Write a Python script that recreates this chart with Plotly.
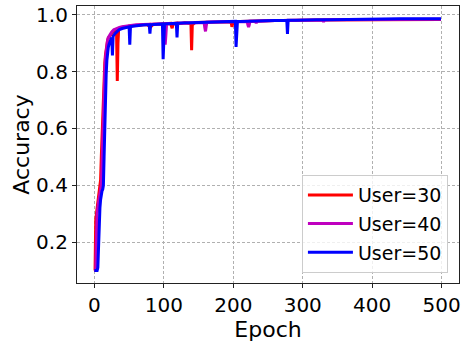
import plotly.graph_objects as go

# ---------------- data ----------------
series_names = ["User=30", "User=40", "User=50"]

epochs_u30 = [0, 1, 2, 3, 5, 7, 8, 9, 10, 11, 12, 13, 14, 15, 16, 17, 18, 19, 20, 22, 24, 26, 28, 30, 31, 32, 33, 34, 35,
              37, 40, 43, 46, 50, 55, 60, 65, 70, 75, 78, 80, 82, 85, 90, 95, 100, 105, 110, 111, 112, 113, 115, 120,
              125, 130, 135, 139, 140, 141, 145, 150, 155, 160, 170, 180, 190, 197, 198, 199, 200, 210, 220, 230, 240,
              250, 260, 270, 280, 290, 300, 320, 340, 360, 380, 400, 420, 440, 460, 480, 499]
acc_u30 = [0.10, 0.10, 0.28, 0.30, 0.33, 0.37, 0.39, 0.42, 0.50, 0.58, 0.65, 0.72, 0.78, 0.83, 0.86, 0.885, 0.90, 0.91,
           0.918, 0.925, 0.935, 0.94, 0.945, 0.948, 0.95, 0.93, 0.767, 0.90, 0.952, 0.954, 0.956, 0.958, 0.957, 0.961,
           0.962, 0.963, 0.964, 0.963, 0.966, 0.962, 0.966, 0.960, 0.967, 0.967, 0.968, 0.968, 0.969, 0.970, 0.960,
           0.953, 0.965, 0.970, 0.971, 0.970, 0.972, 0.972, 0.970, 0.876, 0.965, 0.973, 0.973, 0.974, 0.974, 0.975,
           0.975, 0.976, 0.974, 0.958, 0.965, 0.977, 0.977, 0.978, 0.978, 0.979, 0.979, 0.980, 0.980, 0.981, 0.981,
           0.981, 0.982, 0.982, 0.983, 0.983, 0.983, 0.983, 0.984, 0.984, 0.984, 0.984]

epochs_u40 = [0, 2, 3, 4, 6, 8, 10, 11, 12, 13, 14, 15, 16, 17, 18, 19, 20, 22, 25, 28, 32, 36, 40, 45, 50, 55, 60, 70,
              80, 90, 100, 101, 102, 103, 104, 110, 120, 130, 140, 150, 158, 159, 160, 161, 162, 170, 180, 190, 200,
              210, 220, 221, 222, 223, 224, 232, 233, 234, 240, 250, 260, 270, 280, 290, 300, 320, 329, 330, 331, 340,
              360, 380, 400, 420, 440, 460, 480, 499]
acc_u40 = [0.10, 0.10, 0.22, 0.30, 0.34, 0.37, 0.40, 0.47, 0.57, 0.66, 0.74, 0.80, 0.85, 0.88, 0.90, 0.91, 0.92, 0.93,
           0.94, 0.948, 0.953, 0.956, 0.958, 0.960, 0.962, 0.963, 0.965, 0.966, 0.967, 0.968, 0.969, 0.930, 0.895,
           0.930, 0.969, 0.970, 0.971, 0.972, 0.972, 0.973, 0.973, 0.955, 0.942, 0.960, 0.974, 0.975, 0.975, 0.976,
           0.977, 0.977, 0.977, 0.965, 0.957, 0.965, 0.978, 0.978, 0.970, 0.978, 0.979, 0.979, 0.980, 0.980, 0.980,
           0.981, 0.981, 0.982, 0.982, 0.975, 0.982, 0.983, 0.983, 0.984, 0.984, 0.984, 0.985, 0.985, 0.985, 0.985]

epochs_u50 = [0, 4, 5, 6, 7, 8, 9, 10, 11, 12, 13, 14, 15, 16, 17, 18, 19, 20, 21, 22, 24, 25, 26, 27, 28, 30, 33, 36,
              40, 45, 50, 51, 52, 55, 60, 65, 70, 75, 79, 80, 81, 85, 90, 95, 98, 99, 100, 101, 105, 110, 115, 118,
              119, 120, 125, 130, 140, 150, 160, 170, 180, 190, 200, 203, 204, 205, 206, 210, 220, 230, 240, 250, 260,
              270, 277, 278, 279, 290, 300, 320, 340, 360, 380, 400, 420, 440, 460, 480, 499]
acc_u50 = [0.10, 0.10, 0.11, 0.20, 0.28, 0.32, 0.35, 0.37, 0.38, 0.385, 0.40, 0.50, 0.62, 0.72, 0.79, 0.84, 0.87, 0.885,
           0.895, 0.905, 0.915, 0.92, 0.857, 0.925, 0.93, 0.935, 0.942, 0.948, 0.952, 0.956, 0.958, 0.895, 0.958,
           0.960, 0.962, 0.963, 0.964, 0.965, 0.965, 0.934, 0.965, 0.966, 0.967, 0.968, 0.968, 0.844, 0.900, 0.968,
           0.969, 0.970, 0.970, 0.970, 0.921, 0.970, 0.971, 0.972, 0.972, 0.973, 0.974, 0.974, 0.975, 0.976, 0.977,
           0.977, 0.887, 0.930, 0.977, 0.977, 0.978, 0.978, 0.979, 0.979, 0.980, 0.980, 0.981, 0.933, 0.981, 0.981,
           0.982, 0.983, 0.983, 0.984, 0.985, 0.985, 0.985, 0.986, 0.986, 0.986, 0.986]

x_ticks = [0, 100, 200, 300, 400, 500]
y_ticks = [0.2, 0.4, 0.6, 0.8, 1.0]
x_label = "Epoch"
y_label = "Accuracy"

# ---------------- figure ----------------
colors = ["#ff0000", "#bf00bf", "#0000ff"]
xs = [epochs_u30, epochs_u40, epochs_u50]
ys = [acc_u30, acc_u40, acc_u50]

FONT = "DejaVu Sans"
fig = go.Figure()
for name, x, y, c in zip(series_names, xs, ys, colors):
    fig.add_trace(go.Scatter(x=x, y=y, mode="lines", name=name, legendgroup=name,
                             line=dict(color=c, width=3)))

axis_common = dict(
    showline=True, linecolor="#222222", linewidth=1.2, mirror=True,
    ticks="outside", ticklen=4, tickwidth=1.2, tickcolor="#222222",
    showgrid=True, gridcolor="#b0b0b0", griddash="3px,2px", gridwidth=1,
    zeroline=False,
    tickfont=dict(family=FONT, size=20, color="black"),
)

fig.update_layout(
    width=464, height=343,
    margin=dict(l=77, r=3, t=3, b=60),
    paper_bgcolor="white", plot_bgcolor="white",
    font=dict(family=FONT, color="black"),
    showlegend=True,
    legend=dict(
        x=0.971, y=0.036, xanchor="right", yanchor="bottom",
        bgcolor="rgba(255,255,255,0.8)", bordercolor="#cccccc", borderwidth=1,
        font=dict(family=FONT, size=19, color="black"),
        traceorder="grouped", tracegroupgap=1, itemwidth=45,
    ),
    xaxis=dict(range=[-25, 524.95], tickvals=x_ticks,
               title=dict(text=x_label, font=dict(family=FONT, size=22, color="black"), standoff=0),
               **axis_common),
    yaxis=dict(range=[0.0558, 1.0313], tickvals=y_ticks, tickformat=".1f",
               title=dict(text=y_label, font=dict(family=FONT, size=22, color="black"), standoff=0),
               **axis_common),
)

fig.write_html("out.html")
